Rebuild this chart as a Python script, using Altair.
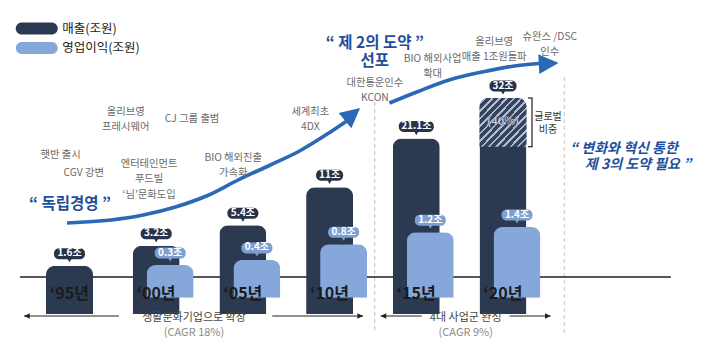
import altair as alt
import pandas as pd

# ---------------- data ----------------
years = [1995, 2000, 2005, 2010, 2015, 2020]
year_labels = ["‘95년", "‘00년", "‘05년", "‘10년", "‘15년", "‘20년"]
sales = [1.6, 3.2, 5.4, 11, 21.1, 32]
sales_labels = ["1.6조", "3.2조", "5.4조", "11조", "21.1조", "32조"]
profit_years = [2000, 2005, 2010, 2015, 2020]
profit = [0.3, 0.4, 0.8, 1.2, 1.4]
profit_labels = ["0.3조", "0.4조", "0.8조", "1.2조", "1.4조"]
global_share = 0.40
series_names = ["매출(조원)", "영업이익(조원)"]

# milestone annotations (x in years, y = first line in reference pixels)
ann_text = ["햇반 출시", "CGV 강변", "올리브영\n프레시웨어", "CJ 그룹 출범",
            "엔터테인먼트\n푸드빌\n‘님’문화도입", "BIO 해외진출\n가속화", "세계최초\n4DX",
            "대한통운인수\nKCON", "BIO 해외사업\n확대", "올리브영\n매출 1조원돌파", "슈완스 /DSC\n인수"]
ann_x = [1994.49, 1995.82, 1998.24, 2002.07, 1999.59, 2004.44, 2008.89, 2012.61, 2015.94, 2019.49, 2022.70]
ann_y = [155, 172.5, 111.5, 118.5, 163.5, 157.5, 111.5, 82.5, 58.5, 41.5, 36.5]

# growth arrows (x in years, y in reference pixels)
arrow_id = [1] * 10 + [2] * 6
arrow_x = [1994.86, 1997.39, 1999.25, 2001.11, 2003.03, 2004.72, 2006.58, 2008.27, 2009.96, 2011.08,
           2013.45, 2015.03, 2016.89, 2018.80, 2020.66, 2022.46]
arrow_y = [223, 220, 215, 207, 195, 180, 165, 151, 133, 120,
           103, 92, 80, 72, 66, 63]
head_x = [2011.76, 2023.20]
head_y = [108, 63]
head_angle = [320, 357]

# dividers
div_x = [2012.6, 2023.54]
div_top = [102, 77]
div_bottom = [333, 333]

# bottom period notes
period_title = ["생활문화기업으로 확장", "4대 사업군 완성"]
period_cagr = ["(CAGR 18%)", "(CAGR 9%)"]
period_x = [2002.18, 2017.85]
span_from = [1997.85, 2006.69, 2015.31, 2020.38]
span_to = [1992.38, 2011.93, 2012.94, 2022.75]
span_angle = [180, 0, 180, 0]

# ---------------- style ----------------
FONT = "Noto Sans CJK KR"
DARK = "#2c3a51"
LIGHT = "#85a7d9"
DARK_PILL = "#27334a"
LIGHT_PILL = "#7d9fd2"
BLUE = "#2b69b6"
BLUE_TEXT = "#1e4e9e"
GRAY = "#6a6a6a"
BASE = 269  # baseline in chart px

XS = alt.Scale(domain=[1995, 2020], range=[56.5, 500], zero=False, nice=False)
YD = alt.Scale(type="sqrt", domain=[0.94, 32], range=[BASE, 90], zero=False, nice=False)
YL = alt.Scale(type="sqrt", domain=[0.121, 1.4], range=[BASE, 219], zero=False, nice=False)
YP = alt.Scale(domain=[0, 356], range=[-8, 348], zero=False, nice=False)
CS = alt.Scale(domain=series_names, range=[DARK, LIGHT])

ARROW = "M0,0L-1.8,-0.9L-1.8,0.9Z"
PILL = "M-0.71,-0.29L0.71,-0.29A0.29,0.29,0,0,1,0.71,0.29L-0.71,0.29A0.29,0.29,0,0,1,-0.71,-0.29Z"

df_sales = pd.DataFrame({"year": years, "value": sales, "label": sales_labels,
                         "ylab": year_labels, "series": series_names[0]})
df_profit = pd.DataFrame({"year": profit_years, "value": profit, "label": profit_labels,
                          "series": series_names[1]})
df_ann = pd.DataFrame({"text": ann_text, "x": ann_x, "y": ann_y})
df_arrow = pd.DataFrame({"id": arrow_id, "x": arrow_x, "y": arrow_y,
                         "k": list(range(len(arrow_x)))})
df_head = pd.DataFrame({"x": head_x, "y": head_y, "ang": head_angle})
df_div = pd.DataFrame({"x": div_x, "y": div_top, "y2": div_bottom})
df_period = pd.DataFrame({"x": period_x, "t": period_title, "c": period_cagr})
df_span = pd.DataFrame({"x": span_from, "x2": span_to, "ang": span_angle})
df_leg = pd.DataFrame({"series": series_names, "y": [28.5, 48]})

X = lambda f="x": alt.X(f"{f}:Q", scale=XS, axis=None)
YPX = lambda f="y": alt.Y(f"{f}:Q", scale=YP, axis=None)

# dividers & baseline
dividers = alt.Chart(df_div).mark_rule(color="#d0d0d0", strokeWidth=1.3, strokeDash=[4, 3]).encode(
    x=X(), y=YPX(), y2="y2:Q")
baseline = alt.Chart(pd.DataFrame({"x": [1992.15], "x2": [2029.68], "y": [277]})).mark_rule(
    color="#1e1e1e", strokeWidth=1.6).encode(x=X(), x2="x2:Q", y=YPX())

# growth arrows
arrows = alt.Chart(df_arrow).mark_line(interpolate="monotone", strokeWidth=3.6, color=BLUE).encode(
    x=X(), y=YPX(), detail="id:N", order="k:Q")
heads = alt.Chart(df_head).mark_point(shape=ARROW, size=480, filled=True, opacity=1, color=BLUE).encode(
    x=X(), y=YPX(), angle=alt.Angle("ang:Q", scale=None))

# bars
bars_dark = alt.Chart(df_sales).mark_bar(size=47, cornerRadiusTopLeft=9, cornerRadiusTopRight=9).encode(
    x=X("year"), y=alt.Y("value:Q", scale=YD, axis=None), y2=alt.value(BASE),
    color=alt.Color("series:N", scale=CS, legend=None))

n = 13
HD, HL = "#35435c", "#aebbd0"
stops = []
for i in range(n):
    a, b, c = i / n, (i + 0.64) / n, (i + 1) / n
    stops += [alt.GradientStop(offset=a, color=HD), alt.GradientStop(offset=b, color=HD),
              alt.GradientStop(offset=b, color=HL), alt.GradientStop(offset=c, color=HL)]
hatch_fill = alt.Gradient(gradient="linear", stops=stops, x1=0, y1=0, x2=1, y2=1)

hatch_base = alt.Chart(df_sales).transform_filter("datum.year == 2020").transform_calculate(
    lo="datum.value * (1 - %f)" % global_share,
    mid="pow((sqrt(datum.value) + sqrt(datum.value * (1 - %f))) / 2, 2)" % global_share,
    pct="'(' + format(%f, '.0%%') + ')'" % global_share)
hatch = hatch_base.mark_bar(size=47, cornerRadiusTopLeft=9, cornerRadiusTopRight=9, fill=hatch_fill).encode(
    x=X("year"), y=alt.Y("value:Q", scale=YD, axis=None), y2="lo:Q")
hatch_txt = hatch_base.mark_text(font=FONT, fontSize=11, fontWeight="bold", color="white",
                                 stroke=DARK, strokeWidth=0.4).encode(
    x=X("year"), y=alt.Y("mid:Q", scale=YD, axis=None), text="pct:N")
bracket = hatch_base.mark_rule(xOffset=29, color="#222", strokeWidth=1.2).encode(
    x=X("year"), y=alt.Y("value:Q", scale=YD, axis=None), y2="lo:Q")
tick_top = hatch_base.mark_rule(xOffset=25, x2Offset=29.6, color="#222", strokeWidth=1.2).encode(
    x=X("year"), x2="year:Q", y=alt.Y("value:Q", scale=YD, axis=None))
tick_bot = hatch_base.mark_rule(xOffset=25, x2Offset=29.6, color="#222", strokeWidth=1.2).encode(
    x=X("year"), x2="year:Q", y=alt.Y("lo:Q", scale=YD, axis=None))
share_txt = hatch_base.transform_calculate(t="'글로벌\\n비중'").mark_text(
    font=FONT, fontSize=10, color="#333", dx=45, dy=-5, lineBreak="\n", lineHeight=12.5).encode(
    x=X("year"), y=alt.Y("mid:Q", scale=YD, axis=None), text="t:N")

bars_light = alt.Chart(df_profit).mark_bar(size=47, xOffset=14, cornerRadiusTopLeft=9,
                                           cornerRadiusTopRight=9).encode(
    x=X("year"), y=alt.Y("value:Q", scale=YL, axis=None), y2=alt.value(BASE),
    color=alt.Color("series:N", scale=CS, legend=None))

# value pills
def pills(df, ys, fill, dx):
    base = alt.Chart(df).transform_calculate(nch="length(datum.label)")
    y = alt.Y("value:Q", scale=ys, axis=None)
    box = base.mark_bar(cornerRadius=5, yOffset=-6.5, y2Offset=-17.5, xOffset=dx, color=fill).encode(
        x=X("year"), y=y, y2="value:Q",
        size=alt.Size("nch:Q", scale=alt.Scale(domain=[3, 5], range=[27, 35]), legend=None))
    tip = base.mark_point(shape="triangle-down", size=22, filled=True, opacity=1, color=fill,
                          yOffset=-5.5, xOffset=dx).encode(x=X("year"), y=y)
    txt = base.mark_text(font=FONT, fontSize=10, fontWeight="bold", color="white", dy=-12.5, dx=dx).encode(
        x=X("year"), y=y, text="label:N")
    return [box, tip, txt]

# year labels
year_txt = alt.Chart(df_sales).mark_text(font=FONT, fontSize=16, fontWeight="bold", color="#1a1a1a").encode(
    x=X("year"), y=alt.value(294 - 8), text="ylab:N")

# annotations
ann = alt.Chart(df_ann).mark_text(font=FONT, fontSize=10.3, color=GRAY, lineBreak="\n",
                                  lineHeight=15.5, baseline="middle").encode(x=X(), y=YPX(), text="text:N")

blue1 = alt.Chart(pd.DataFrame({"x": [1995.03], "y": [203.5], "t": ["“ 독립경영 ”"]})).mark_text(
    font=FONT, fontSize=15.5, fontWeight="bold", color=BLUE_TEXT).encode(x=X(), y=YPX(), text="t:N")
blue2 = alt.Chart(pd.DataFrame({"x": [2012.61], "y": [42.5], "t": ["“ 제 2의 도약 ”\n선포"]})).mark_text(
    font=FONT, fontSize=15.5, fontWeight="bold", color=BLUE_TEXT, lineBreak="\n", lineHeight=18).encode(
    x=X(), y=YPX(), text="t:N")
blue3 = alt.Chart(pd.DataFrame({"x": [2023.87, 2024.72], "y": [148.5, 164.5],
                                "t": ["“ 변화와 혁신 통한", "제 3의 도약 필요 ”"]})).mark_text(
    font=FONT, fontSize=14, fontWeight="bold", fontStyle="italic", color=BLUE_TEXT, align="left").encode(
    x=X(), y=YPX(), text="t:N")

# period notes
p_title = alt.Chart(df_period).mark_text(font=FONT, fontSize=11, color="#444").encode(
    x=X(), y=alt.value(318 - 8), text="t:N")
p_cagr = alt.Chart(df_period).mark_text(font=FONT, fontSize=11, color="#8a8a8a").encode(
    x=X(), y=alt.value(333 - 8), text="c:N")
spans = alt.Chart(df_span).mark_rule(color="#222", strokeWidth=1).encode(
    x=X(), x2="x2:Q", y=alt.value(316 - 8))
span_heads = alt.Chart(df_span).mark_point(shape=ARROW, size=40, filled=True, opacity=1, color="#222").encode(
    x=X("x2"), y=alt.value(316 - 8), angle=alt.Angle("ang:Q", scale=None))

# legend
leg_sym = alt.Chart(df_leg).mark_point(shape=PILL, size=1764, filled=True, opacity=1).encode(
    x=alt.X("lx:Q", scale=XS, axis=None), y=YPX(),
    color=alt.Color("series:N", scale=CS, legend=None)).transform_calculate(lx="1993.11")
leg_txt = alt.Chart(df_leg).mark_text(font=FONT, fontSize=12.5, color="#222", align="left").encode(
    x=alt.X("lx:Q", scale=XS, axis=None), y=YPX(), text="series:N").transform_calculate(lx="1994.58")

layers = [dividers, baseline, arrows, heads, bars_dark, hatch] + pills(df_sales, YD, DARK_PILL, 0) + \
         [bars_light] + pills(df_profit, YL, LIGHT_PILL, 14) + \
         [hatch_txt, bracket, tick_top, tick_bot, share_txt, year_txt, ann, blue1, blue2, blue3,
          p_title, p_cagr, spans, span_heads, leg_sym, leg_txt]

chart = alt.layer(*layers).resolve_scale(y="independent").properties(
    width=694, height=340, autosize=alt.AutoSizeParams(type="none"), padding=0, background="white"
).configure_view(stroke=None)

chart.save("out.html", embed_options={"renderer": "svg", "actions": False})
